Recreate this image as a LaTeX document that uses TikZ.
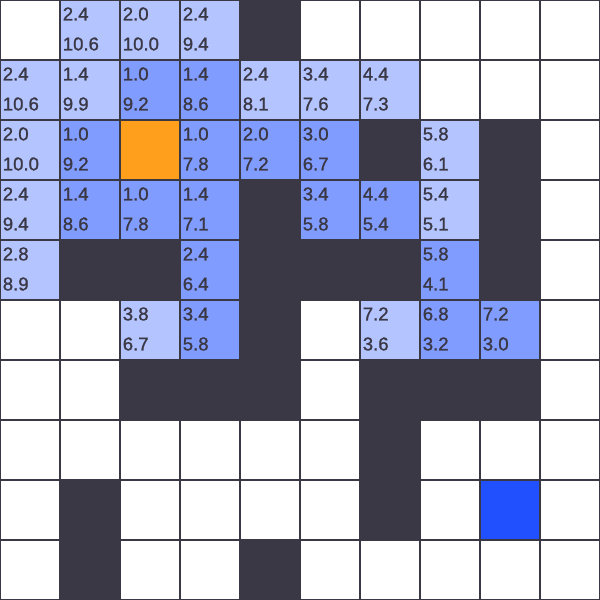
\documentclass[tikz,border=0pt]{standalone}
\usepackage{fontspec}
\setmainfont{Liberation Sans}
\newfontfamily\costfont[FakeBold=1.2]{Liberation Sans}
\usetikzlibrary{positioning}
\definecolor{wallgray}{HTML}{3B3845}
\definecolor{openblue}{HTML}{B3C4FF}
\definecolor{closedblue}{HTML}{819CFF}
\definecolor{startorange}{HTML}{FF9F1C}
\definecolor{goalblue}{HTML}{2151FF}

\begin{document}
\begin{tikzpicture}[y=-1cm,
        wall/.style={fill=wallgray},
        openset/.style={fill=openblue},
        closedset/.style={fill=closedblue},
        gridline/.style={draw=wallgray, line width=1.1pt},
        cost/.style={anchor=base west, inner sep=0pt, text=wallgray, font=\costfont\fontsize{8.8}{10}\selectfont}
    ]
        \useasboundingbox (0,0) rectangle (10,10);
        \fill[white] (0,0) rectangle (10,10);
        % walls
        \foreach \c/\r in {4/0, 6/2, 8/2, 4/3, 8/3, 1/4, 2/4, 4/4, 5/4, 6/4, 8/4, 4/5,
                2/6, 3/6, 4/6, 6/6, 7/6, 8/6, 6/7, 1/8, 6/8, 1/9, 4/9}
            \fill[wall] (\c,\r) rectangle ++(1,1);
        % start and goal
        \fill[startorange] (2,2) rectangle ++(1,1);
        \fill[goalblue] (8,8) rectangle ++(1,1);
        % open cells
        \foreach \c/\r/\g/\h in {1/0/2.4/10.6, 2/0/2.0/10.0, 3/0/2.4/9.4,
                0/1/2.4/10.6, 1/1/1.4/9.9, 4/1/2.4/8.1, 5/1/3.4/7.6, 6/1/4.4/7.3,
                0/2/2.0/10.0, 7/2/5.8/6.1, 0/3/2.4/9.4, 7/3/5.4/5.1,
                0/4/2.8/8.9, 2/5/3.8/6.7, 6/5/7.2/3.6} {
            \fill[openset] (\c,\r) rectangle ++(1,1);
            \node[cost] (g-\c-\r) at (\c+0.04,\r+0.34) {\g};
            \node[cost] (h-\c-\r) at (\c+0.04,\r+0.84) {\h};
        }
        % closed cells
        \foreach \c/\r/\g/\h in {2/1/1.0/9.2, 3/1/1.4/8.6,
                1/2/1.0/9.2, 3/2/1.0/7.8, 4/2/2.0/7.2, 5/2/3.0/6.7,
                1/3/1.4/8.6, 2/3/1.0/7.8, 3/3/1.4/7.1, 5/3/3.4/5.8, 6/3/4.4/5.4,
                3/4/2.4/6.4, 7/4/5.8/4.1,
                3/5/3.4/5.8, 7/5/6.8/3.2, 8/5/7.2/3.0} {
            \fill[closedset] (\c,\r) rectangle ++(1,1);
            \node[cost] (g-\c-\r) at (\c+0.04,\r+0.34) {\g};
            \node[cost] (h-\c-\r) at (\c+0.04,\r+0.84) {\h};
        }
        \draw[gridline] (0,0) grid (10,10);
    \end{tikzpicture}
\end{document}
